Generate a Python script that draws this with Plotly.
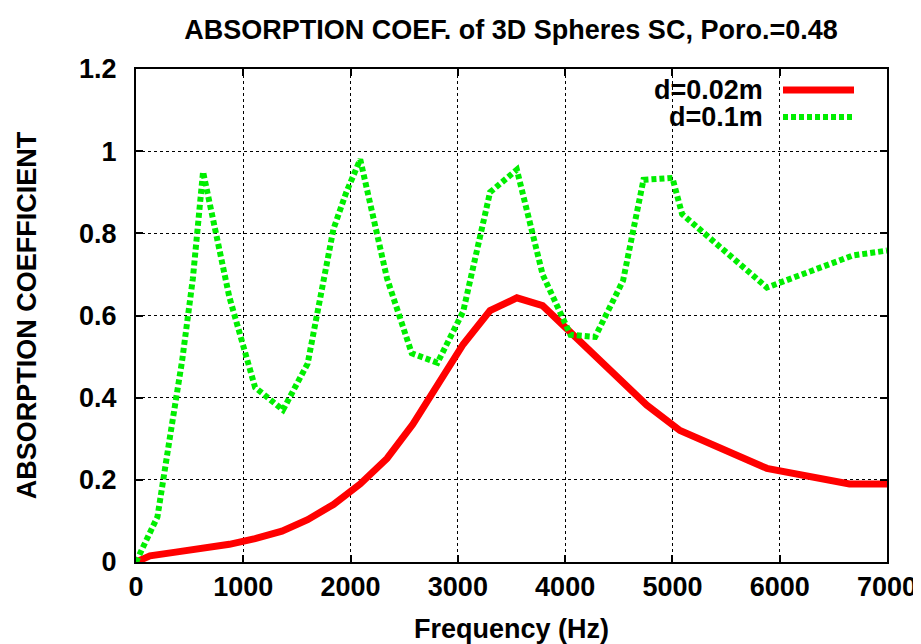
import plotly.graph_objects as go

# ---- data ----
freq_red = [0, 130, 370, 620, 870, 1110, 1360, 1600, 1840, 2090, 2340, 2580, 2830, 3050,
            3300, 3550, 3790, 4050, 4280, 4520, 4760, 5070, 5880, 6650, 7000]
abs_red = [0.0, 0.015, 0.024, 0.033, 0.043, 0.057, 0.075, 0.103, 0.14, 0.19, 0.252, 0.335, 0.435, 0.53,
           0.612, 0.643, 0.624, 0.56, 0.50, 0.44, 0.382, 0.32, 0.228, 0.19, 0.19]

freq_green = [0, 200, 320, 430, 530, 625, 870, 1110, 1370, 1600, 1840, 1960, 2090, 2220, 2340,
              2570, 2810, 3050, 3300, 3550, 3790, 4050, 4280, 4540, 4730, 5000, 5090, 5880, 6680, 7000]
abs_green = [0.0, 0.11, 0.31, 0.49, 0.69, 0.95, 0.645, 0.425, 0.37, 0.483, 0.81, 0.90, 0.98, 0.83, 0.69,
             0.508, 0.485, 0.61, 0.90, 0.955, 0.70, 0.553, 0.548, 0.685, 0.93, 0.935, 0.847, 0.668, 0.746, 0.758]

series_names = ["d=0.02m", "d=0.1m"]
x_ticks = [0, 1000, 2000, 3000, 4000, 5000, 6000, 7000]
y_ticks = [0, 0.2, 0.4, 0.6, 0.8, 1.0, 1.2]
y_tick_labels = ["0", "0.2", "0.4", "0.6", "0.8", "1", "1.2"]

FONT = "Liberation Sans, Arial, Helvetica, sans-serif"
FS = 27
RED = "#ff0000"
GREEN = "#00ee00"

# page has an 8px body margin (left/top); figure size/margins compensate
OFF = 8
W, H = 921 - OFF, 644 - OFF

fig = go.Figure()
fig.add_trace(go.Scatter(x=freq_red, y=abs_red, mode="lines", name=series_names[0],
                         line=dict(color=RED, width=7), showlegend=False))
fig.add_trace(go.Scatter(x=freq_green, y=abs_green, mode="lines", name=series_names[1],
                         line=dict(color=GREEN, width=6, dash="5px,3px"), showlegend=False))

axis_common = dict(
    showline=True, linecolor="black", linewidth=2, mirror="allticks",
    ticks="inside", ticklen=7, tickwidth=2, tickcolor="black",
    showgrid=True, gridcolor="black", gridwidth=1, griddash="dot",
    zeroline=False, automargin=False,
    tickfont=dict(family=FONT, size=FS, color="black", weight="bold"),
)

fig.update_xaxes(range=[0, 7000], tickvals=x_ticks, **axis_common,
                 title=dict(text="Frequency (Hz)", font=dict(family=FONT, size=FS, color="black", weight="bold"),
                            standoff=18))
fig.update_yaxes(range=[0, 1.2], tickvals=y_ticks, ticktext=y_tick_labels, ticklabelstandoff=12, **axis_common,
                 title=dict(text="ABSORPTION COEFFICIENT", font=dict(family=FONT, size=FS, color="black", weight="bold"),
                            standoff=35))

# custom gnuplot-style legend (text on left, sample on right)
legend_y = [90, 117]
pt = 69
pb = 562
def paper_y(py):
    return (pb - py) / (pb - pt)
def paper_x(px):
    return (px - 136) / (887 - 136)

for i, (name, col, dash, w) in enumerate([(series_names[0], RED, "solid", 7),
                                          (series_names[1], GREEN, "5px,3px", 6)]):
    yy = paper_y(legend_y[i])
    fig.add_annotation(x=paper_x(765), y=yy, xref="paper", yref="paper", text=name, showarrow=False,
                       xanchor="right", yanchor="middle",
                       font=dict(family=FONT, size=FS, color="black", weight="bold"))
    fig.add_shape(type="line", xref="paper", yref="paper", x0=paper_x(783), x1=paper_x(854), y0=yy, y1=yy,
                  line=dict(color=col, width=w, dash=dash))

fig.update_layout(
    width=W, height=H,
    margin=dict(l=136 - OFF, r=921 - 887, t=69 - OFF, b=644 - 562, autoexpand=False),
    paper_bgcolor="white", plot_bgcolor="white",
    title=dict(text="ABSORPTION COEF. of 3D Spheres SC, Poro.=0.48", x=(511 - OFF) / W, xanchor="center",
               y=1 - (30 - OFF) / H, yanchor="middle",
               font=dict(family=FONT, size=FS, color="black", weight="bold")),
)

fig.write_html("out.html")
